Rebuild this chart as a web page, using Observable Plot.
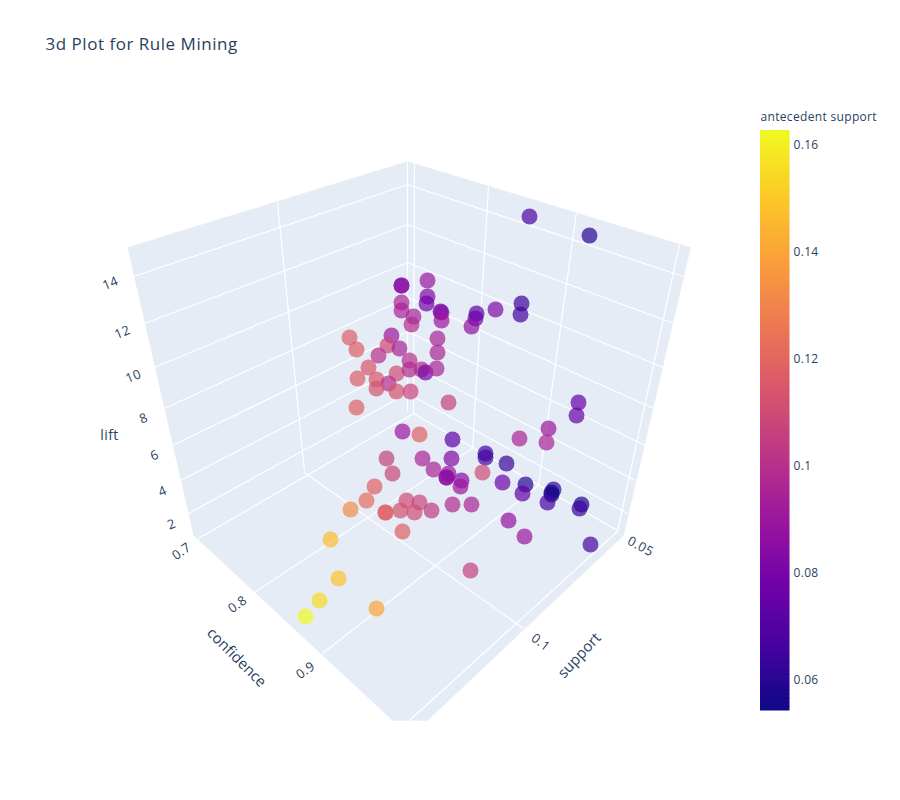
<!DOCTYPE html>
<html>
<head>
<meta charset="utf-8">
<style>
html,body{margin:0;padding:0;background:#fff}svg{display:block}
.ls-title text{letter-spacing:.52px}
.ls-bar text{letter-spacing:.33px}
.ls-tick text{letter-spacing:.4px}
</style>
<script src="https://cdn.jsdelivr.net/npm/d3@7"></script>
<script src="https://cdn.jsdelivr.net/npm/@observablehq/plot@0.6"></script>
</head>
<body>
<div id="chart"></div>
<script>
// Rule points as they appear in the projected scene: [scene x, scene y, antecedent support]
const rules = [
[401,285,.085],[401,285,.085],[401,302,.095],[401,310,.095],[413,316,.095],[411,324,.098],[391,335,.09],[387,345,.109],
[399,348,.095],[378,355,.1],[349,337,.117],[356,349,.117],[368,367,.114],[357,378,.117],[376,379,.114],[396,373,.11],
[409,360,.1],[409,369,.098],[388,383,.1],[376,388,.113],[396,391,.113],[410,391,.107],[356,407,.118],
[427,280,.09],[427,296,.083],[426,303,.078],[440,311,.08],[441,312,.083],[441,320,.09],[437,338,.095],[437,352,.095],
[421,369,.098],[425,372,.08],[436,368,.095],[448,402,.106],[476,313,.073],[475,318,.075],[471,326,.086],[495,309,.083],
[521,303,.064],[520,314,.066],[529,216,.068],[589,235,.06],[578,402,.075],[576,415,.075],[548,428,.09],[519,438,.095],[546,442,.095],
[402,431,.09],[419,434,.118],[452,439,.072],[386,458,.106],[422,458,.095],[451,458,.083],[392,473,.108],[433,469,.095],[448,473,.09],
[446,477,.085],[446,477,.085],[461,480,.085],[460,486,.09],[374,486,.118],[366,500,.122],[350,509,.132],[406,500,.11],[419,502,.108],
[400,510,.112],[385,512,.118],[385,512,.118],[414,512,.11],[431,510,.104],[452,504,.098],[471,504,.095],[402,531,.118],
[330,539,.147],[338,578,.148],[319,600,.155],[305,616,.163],[376,608,.14],[470,570,.106],
[485,453,.066],[485,457,.066],[506,463,.064],[482,472,.11],[502,482,.077],[525,484,.06],[522,493,.073],[553,489,.062],[551,492,.056],
[551,494,.056],[547,502,.067],[581,504,.058],[579,508,.063],[508,520,.088],[524,536,.09],[590,544,.067]
].map(([x,y,v])=>({x,y,v}));

const plasma = ["#0d0887","#46039f","#7201a8","#9c179e","#bd3786","#d8576b","#ed7953","#fb9f3a","#fdca26","#f0f921"];
const supportMin = 0.0542, supportMax = 0.1626;

const leftWall  = [[127,247],[407,161],[407,411],[193,535]];
const rightWall = [[407,161],[690,247],[623,535],[407,411]];
const floorPane = [[193,535],[407,411],[623,535],[427,720],[392,720]];
const panes = [leftWall,rightWall,floorPane];

// Grid lines of the three panes: [x1,y1,x2,y2]
const gridLines = [
[133,276,407,184],[144,323,407,224],[154,367,407,262],[164,408,407,297],[172,445,407,331],[180,480,407,363],[188,513,407,393],
[407,184,683,276],[407,224,673,323],[407,262,663,367],[407,297,653,408],[407,331,645,445],[407,363,635,480],[407,393,627,513],
[277,202,304,471],[407,161,407,411],[414,163,413,413],[488,186,472,448],[576,212,538,485],[679,244,617,531],
[198,538,413,413],[254,592,472,448],[322,653,538,485],[617,531,409,720],
[304,472,523,628],[413,413,617,530]
].map(([x1,y1,x2,y2])=>({x1,y1,x2,y2}));

const liftTicks = [["14",110,283],["12",122,332],["10",133,376],["8",143,418],["6",154,455],["4",162,491],["2",171,524]];
const confidenceTicks = [["0.7",181,551],["0.8",237,604],["0.9",305,670]];
const supportTicks = [["0.05",640,546,28],["0.1",540,642,38]];
const barTicks = [[0.16,"0.16"],[0.14,"0.14"],[0.12,"0.12"],[0.1,"0.1"],[0.08,"0.08"],[0.06,"0.06"]];

const ink = "#2a3f5f", font = "'Open Sans', sans-serif";
const tickLabels = [
  ...liftTicks.map(([t,x,y])=>({t,x,y,r:-22})),
  ...confidenceTicks.map(([t,x,y])=>({t,x,y,r:-35})),
  ...supportTicks.map(([t,x,y,r])=>({t,x,y,r}))
];
const axisTitles = [
  {t:"confidence",x:236,y:657,r:45},
  {t:"support",x:579,y:655,r:-47}
];

const barY = v => 710 - (v - supportMin) * (580 / (supportMax - supportMin));
const barSteps = d3.range(0, 145).map(i => {
  const a = supportMin + (supportMax - supportMin) * i / 145;
  const b = supportMin + (supportMax - supportMin) * (i + 1) / 145;
  return {a, b, mid:(a + b) / 2};
});

const chart = Plot.plot({
  width: 900, height: 800, margin: 0,
  style: {background: "#fff", fontFamily: font},
  x: {domain: [0, 900], range: [0, 900], axis: null},
  y: {domain: [0, 800], range: [0, 800], axis: null},
  color: {type: "linear", domain: [supportMin, supportMax], interpolate: d3.piecewise(d3.interpolateRgb, plasma)},
  marks: [
    ...panes.map(p => Plot.line(p, {x: d => d[0], y: d => d[1], fill: "#E5ECF6", stroke: "#E5ECF6", strokeWidth: 0.5})),
    Plot.link(gridLines, {x1: "x1", y1: "y1", x2: "x2", y2: "y2", stroke: "#fff", strokeWidth: 1.2}),
    Plot.dot(rules, {x: "x", y: "y", fill: "v", r: 8, fillOpacity: 0.7, stroke: "none"}),
    Plot.text(tickLabels, {x: "x", y: "y", text: "t", rotate: "r", fontSize: 13, fill: ink, fontFamily: font, className: "ls-tick"}),
    Plot.text(["lift"], {x: () => 109, y: () => 435, fontSize: 14, fill: ink, fontFamily: font, className: "ls-tick"}),
    Plot.text(axisTitles, {x: "x", y: "y", text: "t", rotate: "r", fontSize: 15, fill: ink, fontFamily: font}),
    Plot.rect(barSteps, {x1: () => 760, x2: () => 789.5, y1: d => barY(d.a) + 0.5, y2: d => barY(d.b), fill: "mid"}),
    Plot.text(barTicks, {x: () => 793, y: d => barY(d[0]) + 1, text: d => d[1], textAnchor: "start", fontSize: 12, fill: ink, fontFamily: font, className: "ls-bar"}),
    Plot.text(["antecedent support"], {x: () => 760, y: () => 117, textAnchor: "start", fontSize: 12, fill: ink, fontFamily: font, className: "ls-bar"}),
    Plot.text(["3d Plot for Rule Mining"], {x: () => 45, y: () => 44, textAnchor: "start", fontSize: 17, fill: ink, fontFamily: font, className: "ls-title"})
  ]
});
document.getElementById("chart").append(chart);
</script>
</body>
</html>
